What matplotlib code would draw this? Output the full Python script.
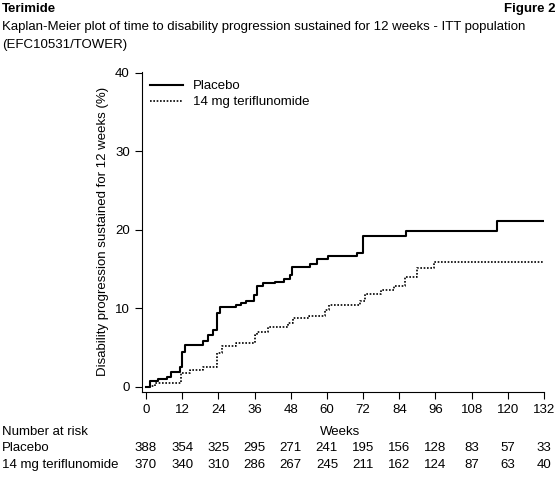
import matplotlib.pyplot as plt

plt.rcParams['font.family'] = ['Liberation Sans Narrow', 'Liberation Sans', 'DejaVu Sans']

weeks = [0, 12, 24, 36, 48, 60, 72, 84, 96, 108, 120, 132]
risk_placebo = [388, 354, 325, 295, 271, 241, 195, 156, 128, 83, 57, 33]
risk_teri = [370, 340, 310, 286, 267, 245, 211, 162, 124, 87, 63, 40]

# step curves (week, cumulative %)
placebo_t = [0, 1.3, 4.1, 6.9, 8.2, 11.3, 11.9, 12.9, 19, 20.7, 22.2, 23.7, 24.6, 29.9, 31.4,
             33.2, 35.8, 36.7, 38.9, 42.8, 45.8, 47.6, 48.3, 54.4, 56.8, 60.5, 69.9, 71.9,
             86.2, 116.5, 132]
placebo_y = [0, 0.7, 1.0, 1.3, 1.95, 2.6, 4.5, 5.35, 5.8, 6.6, 7.26, 9.4, 10.15, 10.4, 10.65,
             11.0, 11.7, 12.9, 13.2, 13.4, 13.7, 14.3, 15.3, 15.7, 16.3, 16.7, 17.1, 19.2,
             19.8, 21.1, 21.1]
teri_t = [0, 1.3, 3.0, 11.5, 14.5, 19, 23.7, 25.1, 30, 36.1, 36.9, 40.6, 47.2, 48.9, 54.2,
          59.4, 60.8, 70.9, 72.6, 78, 82.4, 85.8, 89.8, 95.5, 132]
teri_y = [0, 0.1, 0.45, 1.75, 2.2, 2.6, 4.3, 5.2, 5.6, 6.6, 7.0, 7.7, 8.1, 8.75, 9.1,
          9.8, 10.5, 11.0, 11.8, 12.4, 12.9, 14.0, 15.2, 15.9, 15.9]

W, H = 559, 479
fig = plt.figure(figsize=(W / 100, H / 100), dpi=100)
ax = fig.add_axes([141.7 / W, 1 - 391.7 / H, (544 - 141.7) / W, (391.7 - 72) / H])

ax.step(placebo_t, placebo_y, where='post', color='black', lw=1.5, label='Placebo')
ax.step(teri_t, teri_y, where='post', color='black', lw=1.2, ls=(0, (1, 1)),
        label='14 mg teriflunomide')

ax.set_xlim(-1.43, 132)
ax.set_ylim(-0.6, 40.1)
ax.set_xticks(weeks)
ax.set_yticks([0, 10, 20, 30, 40])
ax.tick_params(labelsize=9.5, length=5, direction='out')
ax.spines['top'].set_visible(False)
ax.spines['right'].set_visible(False)
ax.spines['bottom'].set_bounds(-1.43, 132)
ax.set_ylabel('Disability progression sustained for 12 weeks (%)', fontsize=9.5)
ax.legend(loc='upper left', frameon=False, fontsize=9.5, handlelength=2.5,
          borderaxespad=0.2, labelspacing=0.3)

fs = 9.5
fig.text(2 / W, 1 - 9 / H, 'Terimide', fontsize=fs, fontweight='bold', va='center')
fig.text(555 / W, 1 - 9 / H, 'Figure 2', fontsize=fs, fontweight='bold', va='center', ha='right')
fig.text(2 / W, 1 - 27 / H, 'Kaplan-Meier plot of time to disability progression sustained for 12 weeks - ITT population',
         fontsize=fs, va='center')
fig.text(2 / W, 1 - 45 / H, '(EFC10531/TOWER)', fontsize=fs, va='center')

# number at risk table
fig.text(2 / W, 1 - 432 / H, 'Number at risk', fontsize=fs, va='center')
fig.text(340 / W, 1 - 432 / H, 'Weeks', fontsize=fs, va='center', ha='center')
fig.text(2 / W, 1 - 448 / H, 'Placebo', fontsize=fs, va='center')
fig.text(2 / W, 1 - 465 / H, '14 mg teriflunomide', fontsize=fs, va='center')
for wk, a, b in zip(weeks, risk_placebo, risk_teri):
    xf = ax.transData.transform((wk, 0))[0] / fig.bbox.width
    fig.text(xf, 1 - 448 / H, str(a), fontsize=fs, va='center', ha='center')
    fig.text(xf, 1 - 465 / H, str(b), fontsize=fs, va='center', ha='center')

fig.savefig('out.png', dpi=100)
